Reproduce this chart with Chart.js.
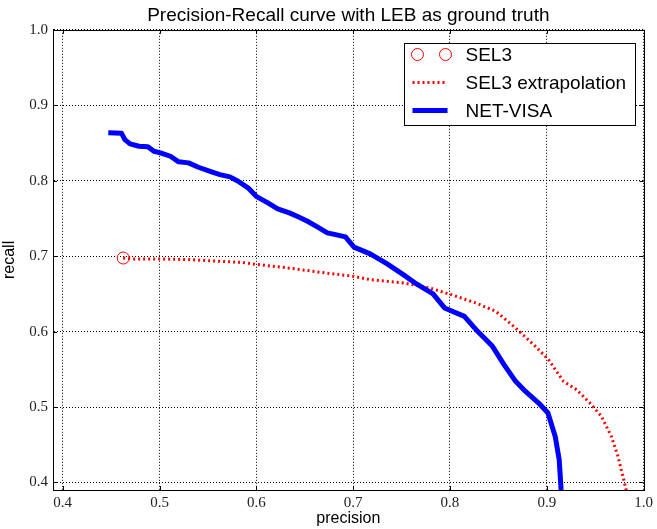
<!DOCTYPE html>
<html>
<head>
<meta charset="utf-8">
<script src="https://cdn.jsdelivr.net/npm/chart.js@4/dist/chart.umd.min.js"></script>
<style>
  body { margin: 0; background: #fff; }
  #wrap { width: 657px; height: 529px; }
</style>
</head>
<body>
<div id="wrap"><canvas id="prCanvas" width="657" height="529"></canvas></div>
<script>
// valores
const precisionTicks = [0.4, 0.5, 0.6, 0.7, 0.8, 0.9, 1.0];
const recallTicks = [0.4, 0.5, 0.6, 0.7, 0.8, 0.9, 1.0];

const sel3Precision = [0.4625];
const sel3Recall = [0.6975];

const extrapPrecision = [0.4625, 0.4703, 0.501, 0.530, 0.5641, 0.5845, 0.6016, 0.6323, 0.6664, 0.7006, 0.7176, 0.7518, 0.779, 0.8012, 0.8268, 0.8473, 0.8678, 0.8882, 0.9018, 0.9172, 0.9309, 0.9445, 0.9565, 0.9667, 0.9735, 0.9786, 0.982];
const extrapRecall = [0.6975, 0.6963, 0.6963, 0.6954, 0.6931, 0.6918, 0.6888, 0.6844, 0.6785, 0.6732, 0.6688, 0.6645, 0.6578, 0.649, 0.6379, 0.6268, 0.6048, 0.5804, 0.5627, 0.534, 0.5229, 0.5053, 0.4875, 0.461, 0.4345, 0.408, 0.39];

const netVisaPrecision = [0.4471, 0.4607, 0.4642, 0.4696, 0.4788, 0.488, 0.4942, 0.501, 0.5113, 0.5198, 0.530, 0.5402, 0.5538, 0.5624, 0.5727, 0.5812, 0.5914, 0.5999, 0.6119, 0.6221, 0.6341, 0.6443, 0.6528, 0.663, 0.6733, 0.6818, 0.692, 0.7009, 0.7176, 0.7347, 0.7518, 0.7654, 0.7825, 0.7944, 0.8149, 0.8285, 0.8439, 0.8558, 0.8678, 0.878, 0.8916, 0.9012, 0.9087, 0.9128, 0.9148];
const netVisaRecall = [0.8634, 0.863, 0.8545, 0.8488, 0.8456, 0.845, 0.839, 0.8369, 0.8324, 0.825, 0.8236, 0.8178, 0.8117, 0.8081, 0.805, 0.7992, 0.7905, 0.7793, 0.7706, 0.7626, 0.7573, 0.7515, 0.7462, 0.7387, 0.7308, 0.7285, 0.7255, 0.712, 0.703, 0.690, 0.6755, 0.6631, 0.6499, 0.6313, 0.6202, 0.6003, 0.5804, 0.5561, 0.534, 0.5207, 0.5053, 0.492, 0.461, 0.4301, 0.39];

function toPoints(xs, ys) {
  return xs.map((x, i) => ({ x: x, y: ys[i] }));
}

const serifTicks = { family: 'Liberation Serif', size: 15 };
const sansFont = 'Liberation Sans';

// ticks para dentro nos quatro lados + moldura
const frameTicks = {
  id: 'frameTicks',
  afterDraw(chart) {
    const ctx = chart.ctx;
    const a = chart.chartArea;
    const xs = chart.scales.x, ys = chart.scales.y;
    ctx.save();
    ctx.strokeStyle = '#000';
    ctx.lineWidth = 1;
    ctx.beginPath();
    precisionTicks.forEach(v => {
      const px = Math.round(xs.getPixelForValue(v)) + 0.5;
      ctx.moveTo(px, a.bottom); ctx.lineTo(px, a.bottom - 4);
      ctx.moveTo(px, a.top); ctx.lineTo(px, a.top + 4);
    });
    recallTicks.forEach(v => {
      const py = Math.round(ys.getPixelForValue(v)) + 0.5;
      ctx.moveTo(a.left, py); ctx.lineTo(a.left + 4, py);
      ctx.moveTo(a.right, py); ctx.lineTo(a.right - 4, py);
    });
    ctx.stroke();
    ctx.strokeRect(Math.round(a.left) + 0.5, Math.round(a.top) + 0.5,
                   Math.round(a.right - a.left), Math.round(a.bottom - a.top));
    ctx.restore();
  }
};

// legenda com caixa, no estilo matplotlib
const boxLegend = {
  id: 'boxLegend',
  afterDraw(chart) {
    const ctx = chart.ctx;
    const a = chart.chartArea;
    const w = 231, h = 82;
    const x0 = Math.round(a.right - 9 - w) + 0.5;
    const y0 = Math.round(a.top + 13) + 0.5;
    ctx.save();
    ctx.fillStyle = '#fff';
    ctx.fillRect(x0, y0, w, h);
    ctx.strokeStyle = '#000';
    ctx.lineWidth = 1;
    ctx.strokeRect(x0, y0, w, h);
    chart.data.datasets.forEach((ds, i) => {
      const cy = y0 + 11 + i * 28;
      if (ds.showLine === false) {
        ctx.strokeStyle = ds.pointBorderColor;
        ctx.lineWidth = 1;
        [x0 + 13, x0 + 41].forEach(cx => {
          ctx.beginPath();
          ctx.arc(cx, cy, ds.pointRadius, 0, Math.PI * 2);
          ctx.stroke();
        });
      } else {
        ctx.strokeStyle = ds.borderColor;
        ctx.lineWidth = ds.borderWidth;
        ctx.setLineDash(ds.borderDash || []);
        ctx.beginPath();
        ctx.moveTo(x0 + 8, cy);
        ctx.lineTo(x0 + 43, cy);
        ctx.stroke();
        ctx.setLineDash([]);
      }
      ctx.fillStyle = '#000';
      ctx.font = '19px ' + sansFont;
      ctx.textBaseline = 'middle';
      ctx.fillText(ds.label, x0 + 61, cy + 1);
    });
    ctx.restore();
  }
};

const ctx = document.getElementById('prCanvas').getContext('2d');
const prChart = new Chart(ctx, {
  type: 'line',
  data: {
    datasets: [
      {
        label: 'SEL3',
        data: toPoints(sel3Precision, sel3Recall),
        showLine: false,
        pointStyle: 'circle',
        pointRadius: 6,
        pointBorderWidth: 1,
        pointBorderColor: '#ff0000',
        pointBackgroundColor: 'rgba(0,0,0,0)',
        order: 2
      },
      {
        label: 'SEL3 extrapolation',
        data: toPoints(extrapPrecision, extrapRecall),
        borderColor: '#ff0000',
        borderWidth: 3,
        borderDash: [2, 3],
        pointRadius: 0,
        tension: 0,
        fill: false,
        order: 1
      },
      {
        label: 'NET-VISA',
        data: toPoints(netVisaPrecision, netVisaRecall),
        borderColor: '#0000ff',
        borderWidth: 5,
        borderJoinStyle: 'round',
        pointRadius: 0,
        tension: 0,
        fill: false,
        order: 0
      }
    ]
  },
  options: {
    responsive: false,
    animation: false,
    layout: { padding: { left: 0, right: 8, top: 0, bottom: 0 } },
    plugins: {
      legend: { display: false },
      tooltip: { enabled: false },
      title: {
        display: true,
        fullSize: false,
        text: 'Precision-Recall curve with LEB as ground truth',
        color: '#000',
        font: { family: sansFont, size: 19, weight: 'normal' },
        padding: { top: 4, bottom: 3 }
      }
    },
    scales: {
      x: {
        type: 'linear',
        min: 0.39,
        max: 1.0,
        afterBuildTicks: s => { s.ticks = precisionTicks.map(v => ({ value: v })); },
        afterFit: s => { s.height = 39; },
        ticks: {
          color: '#222',
          font: serifTicks,
          padding: 4,
          maxRotation: 0,
          callback: v => v.toFixed(1)
        },
        grid: { color: '#000', lineWidth: 1, drawTicks: false },
        border: { color: '#000', dash: [1, 2] },
        title: {
          display: true,
          text: 'precision',
          color: '#000',
          font: { family: sansFont, size: 16 },
          padding: { top: 0, bottom: 1 }
        }
      },
      y: {
        type: 'linear',
        min: 0.39,
        max: 1.0,
        afterBuildTicks: s => { s.ticks = recallTicks.map(v => ({ value: v })); },
        afterFit: s => { s.width = 53; },
        ticks: {
          color: '#222',
          font: serifTicks,
          padding: 5,
          callback: v => v.toFixed(1)
        },
        grid: { color: '#000', lineWidth: 1, drawTicks: false },
        border: { color: '#000', dash: [1, 2] },
        title: {
          display: true,
          text: 'recall',
          color: '#000',
          font: { family: sansFont, size: 16 },
          padding: { top: 0, bottom: 0 }
        }
      }
    }
  },
  plugins: [frameTicks, boxLegend]
});
</script>
</body>
</html>
